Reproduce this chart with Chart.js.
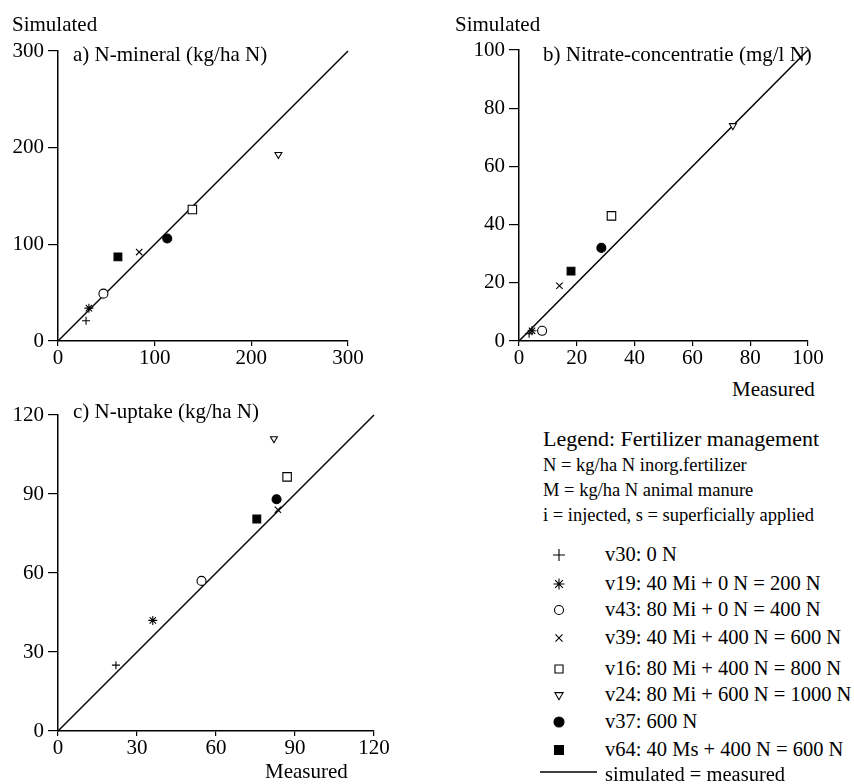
<!DOCTYPE html>
<html>
<head>
<meta charset="utf-8">
<script src="https://cdn.jsdelivr.net/npm/chart.js@4.4.0/dist/chart.umd.min.js"></script>
<style>
body { margin: 0; background: #fff; width: 854px; height: 784px; position: relative; overflow: hidden;
       font-family: "Liberation Serif", "Times New Roman", serif; color: #000; }
canvas.panel { position: absolute; }
.t { position: absolute; white-space: nowrap; line-height: 1; }
.sym { position: absolute; }
</style>
</head>
<body>
<canvas class="panel" id="chartA" width="370" height="371" style="left:0;top:0"></canvas>
<canvas class="panel" id="chartB" width="369" height="371" style="left:461px;top:0"></canvas>
<canvas class="panel" id="chartC" width="396" height="366" style="left:0;top:395px"></canvas>

<div class="t" style="left:12px;top:14px;font-size:21px">Simulated</div>
<div class="t" style="left:455px;top:14px;font-size:21px">Simulated</div>
<div class="t" style="left:73px;top:44px;font-size:21px">a) N-mineral (kg/ha N)</div>
<div class="t" style="left:543px;top:44px;font-size:21px">b) Nitrate-concentratie (mg/l N)</div>
<div class="t" style="left:73px;top:401px;font-size:21px">c) N-uptake (kg/ha N)</div>
<div class="t" style="left:732px;top:379px;font-size:21px">Measured</div>
<div class="t" style="left:265px;top:761px;font-size:21px">Measured</div>

<div id="legend"></div>

<script>
// treatments, same order in every panel
const series = [
    'v30: 0 N',
    'v19: 40 Mi + 0 N = 200 N',
    'v43: 80 Mi + 0 N = 400 N',
    'v39: 40 Mi + 400 N = 600 N',
    'v16: 80 Mi + 400 N = 800 N',
    'v24: 80 Mi + 600 N = 1000 N',
    'v37: 600 N',
    'v64: 40 Ms + 400 N = 600 N'
];
const lineLabel = 'simulated = measured';

// a) N-mineral (kg/ha N)
const mineralMeasured  = [29, 32, 47, 84, 139, 228, 113, 62];
const mineralSimulated = [21, 34, 49, 92, 136, 193, 106, 87];
// b) Nitrate-concentratie (mg/l N)
const nitrateMeasured  = [3.5, 4.5, 8, 14, 32, 74, 28.5, 18];
const nitrateSimulated = [2.5, 3.5, 3.5, 19, 43, 74, 32, 24];
// c) N-uptake (kg/ha N)
const uptakeMeasured  = [22, 36, 54.5, 83.5, 87, 82, 83, 75.5];
const uptakeSimulated = [25, 42, 57, 84, 96.5, 111, 88, 80.5];

const legendNotes = [
    'N = kg/ha N inorg.fertilizer',
    'M = kg/ha N animal manure',
    'i = injected, s = superficially applied'
];

// marker look per treatment
const markers = [
    { style: 'cross',    r: 4,   fill: false, rot: 0 },
    { style: 'star',     r: 4.5, fill: false, rot: 0 },
    { style: 'circle',   r: 4.5, fill: false, rot: 0 },
    { style: 'crossRot', r: 4.5, fill: false, rot: 0 },
    { style: 'rect',     r: 6,   fill: false, rot: 0 },
    { style: 'triangle', r: 4,   fill: false, rot: 180 },
    { style: 'circle',   r: 4.5, fill: true,  rot: 0 },
    { style: 'rect',     r: 5.5, fill: true,  rot: 0 }
];

Chart.defaults.font.family = '"Liberation Serif", "Times New Roman", serif';
Chart.defaults.color = '#000';

function makePanel(id, measured, simulated, max, step, padTop) {
    const datasets = series.map((name, i) => ({
        label: name,
        data: [{ x: measured[i], y: simulated[i] }],
        pointStyle: markers[i].style,
        pointRadius: markers[i].r,
        pointRotation: markers[i].rot,
        borderColor: '#000',
        backgroundColor: markers[i].fill ? '#000' : '#fff',
        borderWidth: 1.1,
        order: 0
    }));
    datasets.push({
        label: lineLabel,
        data: [{ x: 0, y: 0 }, { x: max, y: max }],
        showLine: true,
        pointRadius: 0,
        borderColor: '#000',
        borderWidth: 1.5,
        order: 1
    });

    const tickFont = { size: 21, family: '"Liberation Serif", serif' };
    return new Chart(document.getElementById(id), {
        type: 'scatter',
        data: { datasets },
        options: {
            responsive: false,
            animation: false,
            clip: false,
            layout: { padding: { top: padTop, right: 22, bottom: 0, left: 0 } },
            plugins: { legend: { display: false }, tooltip: { enabled: false } },
            scales: {
                x: {
                    type: 'linear', min: 0, max,
                    ticks: { stepSize: step, font: tickFont, color: '#000', padding: 0, maxRotation: 0 },
                    grid: { drawOnChartArea: false, tickLength: 5, color: '#000', lineWidth: 1.2 },
                    border: { color: '#000', width: 1.5 },
                    afterFit: s => { s.height = 30; s.paddingLeft = 0; s.paddingRight = 0; }
                },
                y: {
                    type: 'linear', min: 0, max,
                    ticks: { stepSize: step, font: tickFont, color: '#000', padding: 4 },
                    grid: { drawOnChartArea: false, tickLength: 10, color: '#000', lineWidth: 1.2 },
                    border: { color: '#000', width: 1.5 },
                    afterFit: s => { s.width = 58; s.paddingTop = 0; s.paddingBottom = 0; }
                }
            }
        }
    });
}

makePanel('chartA', mineralMeasured, mineralSimulated, 300, 100, 51);
makePanel('chartB', nitrateMeasured, nitrateSimulated, 100, 20, 50);
makePanel('chartC', uptakeMeasured, uptakeSimulated, 120, 30, 20);

// legend block (text as html, symbols drawn with Chart's own point helper)
const legend = document.getElementById('legend');
function addText(txt, left, top, size) {
    const d = document.createElement('div');
    d.className = 't';
    d.style.left = left + 'px';
    d.style.top = top + 'px';
    d.style.fontSize = size + 'px';
    d.textContent = txt;
    legend.appendChild(d);
}
addText('Legend: Fertilizer management', 543, 428, 22);
const noteTops = [456, 481, 506];
legendNotes.forEach((n, i) => addText(n, 543, noteTops[i], 18.5));

const itemTops = [544, 573, 599, 627, 658, 684, 711, 739];
const legendSize = [6, 5.5, 4.5, 5, 5.7, 4.7, 5, 6.3];
series.forEach((name, i) => {
    addText(name, 605, itemTops[i], 20.5);
    const c = document.createElement('canvas');
    c.className = 'sym';
    c.width = 20; c.height = 20;
    c.style.left = (559 - 10) + 'px';
    c.style.top = (itemTops[i] + 11 - 10) + 'px';
    legend.appendChild(c);
    const ctx = c.getContext('2d');
    ctx.strokeStyle = '#000';
    ctx.fillStyle = markers[i].fill ? '#000' : '#fff';
    ctx.lineWidth = 1.1;
    Chart.helpers.drawPoint(ctx, {
        pointStyle: markers[i].style,
        radius: legendSize[i],
        rotation: markers[i].rot,
        borderWidth: 1.1
    }, 10, 10);
});
// line sample
const lc = document.createElement('canvas');
lc.className = 'sym';
lc.width = 60; lc.height = 6;
lc.style.left = '540px';
lc.style.top = '769px';
legend.appendChild(lc);
const lctx = lc.getContext('2d');
lctx.strokeStyle = '#000';
lctx.lineWidth = 1.5;
lctx.beginPath(); lctx.moveTo(0, 3); lctx.lineTo(57, 3); lctx.stroke();
addText(lineLabel, 605, 764, 20.5);
</script>
</body>
</html>
